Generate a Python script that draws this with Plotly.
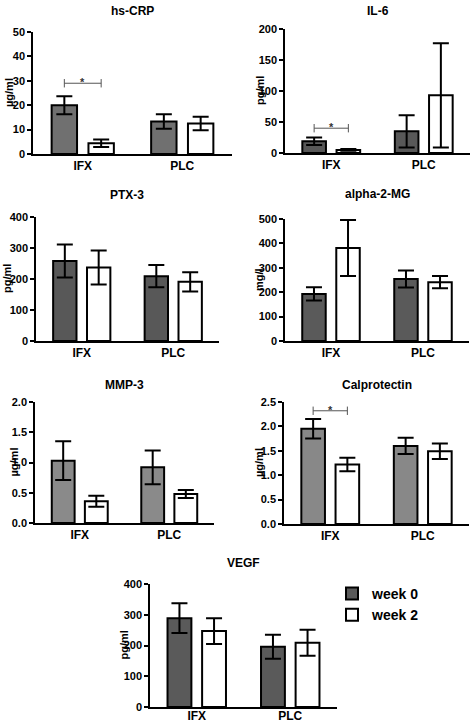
import plotly.graph_objects as go

# ---- data ----
groups = ["IFX", "PLC"]
series_names = ["week 0", "week 2"]

panel_titles = ["hs-CRP", "IL-6", "PTX-3", "alpha-2-MG", "MMP-3", "Calprotectin", "VEGF"]
panel_units = ["µg/ml", "pg/ml", "pg/ml", "mg/l", "µg/ml", "µg/ml", "pg/ml"]

crp_w0 = [20.0, 13.3]
crp_w0_err = [3.7, 3.0]
crp_w2 = [4.4, 12.5]
crp_w2_err = [1.5, 2.8]

il6_w0 = [19, 35]
il6_w0_err = [6, 26]
il6_w2 = [5, 93]
il6_w2_err = [1.5, 84]

ptx_w0 = [258, 209]
ptx_w0_err = [53, 36]
ptx_w2 = [237, 191]
ptx_w2_err = [55, 31]

a2m_w0 = [193, 254]
a2m_w0_err = [27, 35]
a2m_w2 = [381, 241]
a2m_w2_err = [115, 25]

mmp_w0 = [1.03, 0.92]
mmp_w0_err = [0.32, 0.28]
mmp_w2 = [0.36, 0.48]
mmp_w2_err = [0.09, 0.065]

cal_w0 = [1.95, 1.60]
cal_w0_err = [0.20, 0.165]
cal_w2 = [1.22, 1.49]
cal_w2_err = [0.14, 0.16]

vegf_w0 = [289, 196]
vegf_w0_err = [48, 39]
vegf_w2 = [247, 209]
vegf_w2_err = [42, 42]

y_max = [50, 200, 400, 500, 2.0, 2.5, 400]
y_dtick = [10, 50, 100, 100, 0.5, 0.5, 100]

# significance brackets: panel index -> height of the bracket
sig_panels = [0, 1, 5]
sig_heights = [29, 40, 2.32]

# ---- styling / layout ----
W, H = 472, 722
FONT = "Liberation Sans, Arial, sans-serif"
w0_colors = ["#707070", "#585858", "#585858", "#5a5a5a", "#8a8a8a", "#888888", "#5a5a5a"]
W2_COLOR = "white"
BARGAP = 0.26
BARGROUPGAP = 0.31

# pixel boxes of each plot area: (left, right, bottom, top)
boxes = [
    (33, 232, 154, 32),
    (285, 470, 153, 29),
    (36, 219, 341, 217),
    (285, 469, 341, 219),
    (35, 214, 523, 402),
    (284, 469, 524, 402),
    (150, 337, 707, 584),
]
title_shift = [21, 18, 22, 25, 17, 17, 21]
unit_shift = [-24, -25, -29, -26, -22, -25, -27]
xlabel_standoff = [0, 0, 0, 0, 0, 0, -3]

w0_vals = [crp_w0, il6_w0, ptx_w0, a2m_w0, mmp_w0, cal_w0, vegf_w0]
w0_errs = [crp_w0_err, il6_w0_err, ptx_w0_err, a2m_w0_err, mmp_w0_err, cal_w0_err, vegf_w0_err]
w2_vals = [crp_w2, il6_w2, ptx_w2, a2m_w2, mmp_w2, cal_w2, vegf_w2]
w2_errs = [crp_w2_err, il6_w2_err, ptx_w2_err, a2m_w2_err, mmp_w2_err, cal_w2_err, vegf_w2_err]

xpos = list(range(len(groups)))

fig = go.Figure()
annotations = []
layout_axes = {}

for i in range(len(panel_titles)):
    n = "" if i == 0 else str(i + 1)
    xa, ya = "x" + n, "y" + n
    last = i == len(panel_titles) - 1

    fig.add_trace(go.Bar(
        x=xpos, y=w0_vals[i], name=series_names[0], xaxis=xa, yaxis=ya,
        marker=dict(color=w0_colors[i], line=dict(color="black", width=2)),
        error_y=dict(type="data", array=w0_errs[i], color="black", thickness=2, width=8),
        showlegend=last, legendrank=1,
    ))
    fig.add_trace(go.Bar(
        x=xpos, y=w2_vals[i], name=series_names[1], xaxis=xa, yaxis=ya,
        marker=dict(color=W2_COLOR, line=dict(color="black", width=2)),
        error_y=dict(type="data", array=w2_errs[i], color="black", thickness=2, width=8),
        showlegend=last, legendrank=2,
    ))

    l, r, b, t = boxes[i]
    tick_fmt = ".1f" if y_dtick[i] < 1 else ""
    layout_axes["xaxis" + n] = dict(
        domain=[l / W, r / W], anchor=ya, range=[-0.5, 1.5], automargin=False,
        tickvals=xpos, ticktext=groups, showline=True, linecolor="black", linewidth=1.5,
        ticks="", showgrid=False, zeroline=False, fixedrange=True,
        ticklabelstandoff=xlabel_standoff[i],
        tickfont=dict(family=FONT, size=12, color="black", weight="bold"),
    )
    layout_axes["yaxis" + n] = dict(
        domain=[1 - b / H, 1 - t / H], anchor=xa, range=[0, y_max[i]], dtick=y_dtick[i],
        automargin=False,
        tickformat=tick_fmt, showline=True, linecolor="black", linewidth=1.5,
        ticks="outside", ticklen=4, tickwidth=1.5, tickcolor="black",
        showgrid=False, zeroline=False,
        tickfont=dict(family=FONT, size=11, color="black", weight="bold"),
    )

    annotations.append(dict(
        text=panel_titles[i], xref=xa + " domain", yref=ya + " domain", x=0.5, y=1,
        yshift=title_shift[i], showarrow=False, xanchor="center", yanchor="middle",
        font=dict(family=FONT, size=12, color="black", weight="bold"),
    ))
    annotations.append(dict(
        text=panel_units[i], xref=xa + " domain", yref=ya + " domain", x=0, y=0.5,
        xshift=unit_shift[i], textangle=-90, showarrow=False,
        xanchor="center", yanchor="middle",
        font=dict(family=FONT, size=11, color="black", weight="bold"),
    ))

# significance brackets between the two IFX bars
half_slot = (1 - BARGAP) / 4
for p, h in zip(sig_panels, sig_heights):
    n = "" if p == 0 else str(p + 1)
    xa, ya = "x" + n, "y" + n
    x0 = xpos[0] - half_slot
    x1 = xpos[0] + half_slot
    fig.add_trace(go.Scatter(
        x=[x0, x1], y=[h, h], xaxis=xa, yaxis=ya, mode="lines+markers",
        line=dict(color="#555555", width=1),
        marker=dict(symbol="line-ns-open", size=6, line=dict(color="#555555", width=1)),
        showlegend=False, hoverinfo="skip",
    ))
    annotations.append(dict(
        text="*", xref=xa, yref=ya, x=xpos[0], y=h, yshift=1,
        showarrow=False, xanchor="center", yanchor="middle",
        font=dict(family=FONT, size=11, color="#333333", weight="bold"),
    ))

fig.update_layout(
    width=W, height=H,
    margin=dict(l=0, r=0, t=0, b=0, autoexpand=False),
    paper_bgcolor="white", plot_bgcolor="white",
    barmode="group", bargap=BARGAP, bargroupgap=BARGROUPGAP,
    annotations=annotations,
    showlegend=True,
    legend=dict(
        x=332 / W, y=1 - 578 / H, xanchor="left", yanchor="top",
        font=dict(family=FONT, size=14, color="black", weight="bold"),
        bgcolor="rgba(0,0,0,0)", tracegroupgap=0,
    ),
    **layout_axes,
)

# drop the page's default body margin so the figure sits at the window's corner
fig.write_html(
    "out.html",
    config={"displayModeBar": False},
    post_script="document.body.style.margin='0px';document.body.style.overflow='hidden';",
)
